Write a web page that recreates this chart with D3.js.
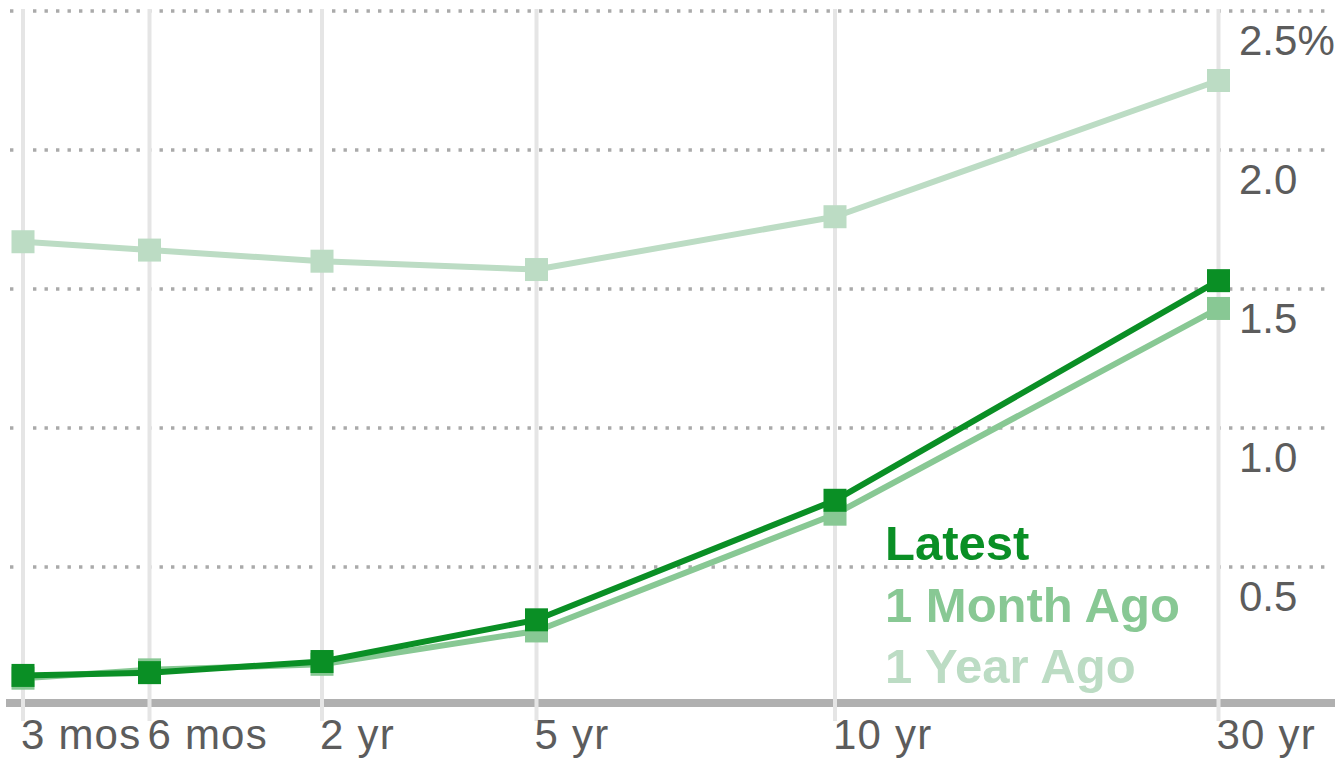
<!DOCTYPE html>
<html>
<head>
<meta charset="utf-8">
<script src="https://cdn.jsdelivr.net/npm/d3@7"></script>
<style>
  html, body { margin: 0; padding: 0; background: #fff; }
  svg { display: block; font-family: "Liberation Sans", Arial, sans-serif; }
</style>
</head>
<body>
<div id="chart"></div>
<script>
// Maturities (years) and their labels
const maturities = [0.25, 0.5, 2, 5, 10, 30];
const maturityLabels = ["3 mos", "6 mos", "2 yr", "5 yr", "10 yr", "30 yr"];

// Yields (%)
const latest = [0.11, 0.12, 0.16, 0.31, 0.74, 1.53];
const monthAgo = [0.10, 0.13, 0.15, 0.27, 0.69, 1.43];
const yearAgo = [1.67, 1.64, 1.60, 1.57, 1.76, 2.25];

const yTicks = [0.5, 1.0, 1.5, 2.0, 2.5];
const seriesNames = ["Latest", "1 Month Ago", "1 Year Ago"];

const width = 1343, height = 758;

const svg = d3.select("#chart").append("svg")
  .attr("width", width)
  .attr("height", height);

// x: maturities are not evenly spread, the chart uses its own spacing
const x = d3.scaleLinear()
  .domain(maturities)
  .range([23, 149.5, 322, 536.5, 835, 1218.5]);

const y = d3.scaleLinear().domain([0, 2.5]).range([706, 11]);

const colors = { "Latest": "#0a8f25", "1 Month Ago": "#88c894", "1 Year Ago": "#bcdcc4" };

// dotted horizontal grid
svg.append("g")
  .selectAll("line")
  .data(yTicks)
  .join("line")
  .attr("x1", 10)
  .attr("x2", 1327)
  .attr("y1", d => y(d))
  .attr("y2", d => y(d))
  .style("stroke", "#aaaaaa")
  .style("stroke-width", 3.5)
  .style("stroke-dasharray", "3.4,8.1");

// baseline
svg.append("line")
  .attr("x1", 6)
  .attr("x2", 1335)
  .attr("y1", y(0) - 3)
  .attr("y2", y(0) - 3)
  .style("stroke", "#b0b0b0")
  .style("stroke-width", 8);

// vertical grid at each maturity
svg.append("g")
  .selectAll("line")
  .data(maturities)
  .join("line")
  .attr("x1", d => x(d))
  .attr("x2", d => x(d))
  .attr("y1", 9)
  .attr("y2", 721)
  .style("stroke", "#e5e5e5")
  .style("stroke-width", 4);

// y labels on the right, below each gridline
svg.append("g")
  .selectAll("text")
  .data(yTicks)
  .join("text")
  .attr("x", 1239)
  .attr("y", d => y(d) + 44)
  .style("font-size", "42px")
  .style("fill", "#5c5c5c")
  .text(d => d === 2.5 ? "2.5%" : d3.format(".1f")(d));

// x labels
svg.append("g")
  .selectAll("text")
  .data(maturities)
  .join("text")
  .attr("x", d => x(d) - 2)
  .attr("y", 749)
  .style("font-size", "42px")
  .style("letter-spacing", "1.2px")
  .style("fill", "#5c5c5c")
  .text((d, i) => maturityLabels[i]);

// series, back to front
const series = [
  { name: "1 Year Ago", values: yearAgo },
  { name: "1 Month Ago", values: monthAgo },
  { name: "Latest", values: latest }
];

const line = d3.line()
  .x((d, i) => x(maturities[i]))
  .y(d => y(d));

series.forEach(s => {
  svg.append("path")
    .datum(s.values)
    .attr("d", line)
    .style("fill", "none")
    .style("stroke", colors[s.name])
    .style("stroke-width", 6)
    .style("stroke-linejoin", "round");

  svg.append("g")
    .selectAll("rect")
    .data(s.values)
    .join("rect")
    .attr("x", (d, i) => x(maturities[i]) - 11.5)
    .attr("y", d => y(d) - 11.5)
    .attr("width", 23)
    .attr("height", 23)
    .style("fill", colors[s.name]);
});

// legend
svg.append("g")
  .selectAll("text")
  .data(seriesNames)
  .join("text")
  .attr("x", 885)
  .attr("y", (d, i) => 560 + i * 61.5)
  .style("font-size", "49px")
  .style("font-weight", "bold")
  .style("fill", d => colors[d])
  .text(d => d);
</script>
</body>
</html>
